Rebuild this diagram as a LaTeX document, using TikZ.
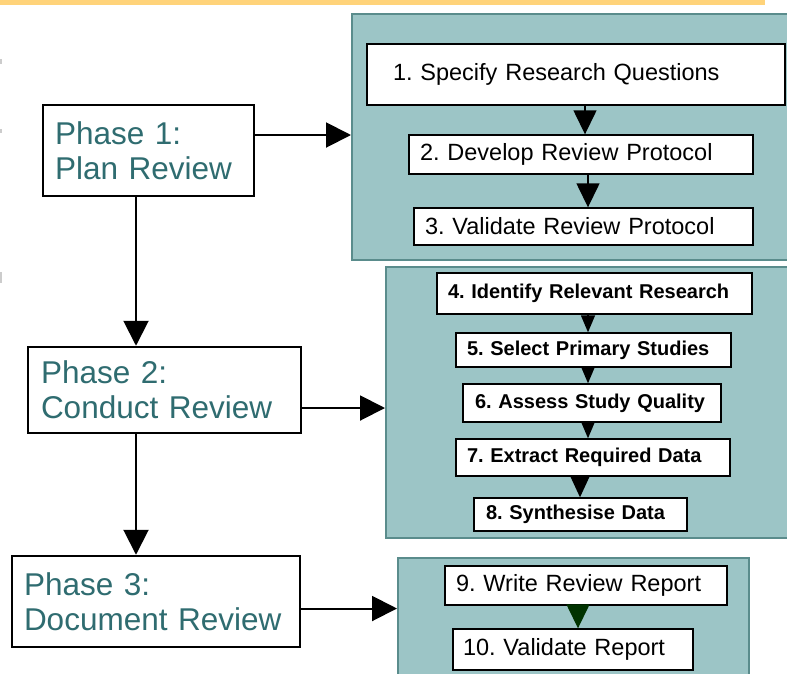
\documentclass[tikz,border=0pt]{standalone}
\usepackage{fontspec}
\setmainfont{Liberation Sans}
\usetikzlibrary{arrows.meta}
\frenchspacing
\definecolor{tealfill}{HTML}{9CC5C6}
\definecolor{tealline}{HTML}{5A8C8C}
\definecolor{phasetext}{HTML}{2F6C70}
\definecolor{bandyellow}{HTML}{FFD37A}
\definecolor{darkgreen}{HTML}{003300}
\definecolor{edgegray}{HTML}{CCCCCC}
\tikzset{
  panel/.style={draw=tealline, line width=2pt, fill=tealfill, rectangle, inner sep=0pt},
  stepbox/.style={draw=black, line width=1.4pt, fill=white, rectangle, align=left,
     inner ysep=0pt, font=\fontsize{23.5}{26}\selectfont},
  boldbox/.style={stepbox, font=\fontsize{20}{23}\selectfont\bfseries},
  phasebox/.style={draw=black, line width=2.5pt, fill=white, rectangle, align=left,
     inner ysep=0pt, text=phasetext, font=\fontsize{31.5}{35}\selectfont},
  conn/.style={line width=2pt, -{Triangle[length=25pt, width=25pt]}},
  inarrow/.style={line width=1.4pt, -{Triangle[length=24pt, width=23pt]}},
  smallarrow/.style={line width=1.4pt, -{Triangle[length=17pt, width=14pt]}},
}
\begin{document}
\begin{tikzpicture}[x=1pt, y=-1pt]
\useasboundingbox (0,0) rectangle (787,673);
% top band and edge marks
\fill[bandyellow] (0,0) rectangle (765,5);
\fill[edgegray] (0,59) rectangle (2,64);
\fill[edgegray] (0,129) rectangle (2,133);
\fill[edgegray] (0,272) rectangle (2,283);
% panels
\node[panel, minimum width=448pt, minimum height=246pt] (p1) at (576,137) {};
\node[panel, minimum width=414pt, minimum height=271pt] (p2) at (593,402.5) {};
\node[panel, minimum width=351pt, minimum height=132pt] (p3) at (573.5,624) {};
% panel 1 steps
\node[stepbox, minimum width=418pt, minimum height=61pt, inner xsep=26pt, text width=366pt] (b1) at (576,74.5) {1. Specify Research Questions};
\node[stepbox, minimum width=344pt, minimum height=39pt, inner xsep=11pt, text width=322pt] (b2) at (581,154.5) {2. Develop Review Protocol};
\node[stepbox, minimum width=339pt, minimum height=37pt, inner xsep=11pt, text width=317pt] (b3) at (583.5,226.5) {3. Validate Review Protocol};
% panel 2 steps
\node[boldbox, minimum width=315pt, minimum height=41pt, inner xsep=11pt, text width=293pt] (b4) at (594.5,293.5) {4. Identify Relevant Research};
\node[boldbox, minimum width=275pt, minimum height=34pt, inner xsep=11pt, text width=253pt] (b5) at (593.5,350) {5. Select Primary Studies};
\node[boldbox, minimum width=258pt, minimum height=38pt, inner xsep=12pt, text width=234pt] (b6) at (592,403) {6. Assess Study Quality};
\node[boldbox, minimum width=274pt, minimum height=37pt, inner xsep=11pt, text width=252pt] (b7) at (593,457.5) {7. Extract Required Data};
\node[boldbox, minimum width=213pt, minimum height=33pt, inner xsep=12pt, text width=189pt] (b8) at (580.5,514.5) {8. Synthesise Data};
% panel 3 steps
\node[stepbox, minimum width=282pt, minimum height=39pt, inner xsep=11pt, text width=260pt] (b9) at (586,585.5) {9. Write Review Report};
\node[stepbox, minimum width=240pt, minimum height=41pt, inner xsep=10pt, text width=220pt] (b10) at (573,649.5) {10. Validate Report};
% phases
\node[phasebox, minimum width=211pt, minimum height=91pt, inner xsep=12pt, text width=187pt] (ph1) at (148.5,150.5) {Phase 1:\\Plan Review};
\node[phasebox, minimum width=273pt, minimum height=86pt, inner xsep=13pt, text width=247pt] (ph2) at (164.5,390) {Phase 2:\\Conduct Review};
\node[phasebox, minimum width=288pt, minimum height=91pt, inner xsep=12pt, text width=264pt] (ph3) at (156,601.5) {Phase 3:\\Document Review};
% x positions of the vertical connectors
\coordinate (xv) at (136,0);
\coordinate (xa) at (585,0);
\coordinate (xb) at (588,0);
\coordinate (xc) at (580,0);
\coordinate (xd) at (578,0);
% phase to panel connectors
\coordinate (s1) at ([yshift=15.5pt]ph1.east);
\coordinate (s2) at ([yshift=-18pt]ph2.east);
\coordinate (s3) at ([yshift=-7pt]ph3.east);
\draw[conn] (s1) -- (s1 -| p1.west);
\draw[conn] (s2) -- (s2 -| p2.west);
\draw[conn] (s3) -- (s3 -| p3.west);
% phase to phase
\draw[conn] (ph1.south -| xv) -- (ph2.north -| xv);
\draw[conn] (ph2.south -| xv) -- (ph3.north -| xv);
% steps
\draw[inarrow] (b1.south -| xa) -- (b2.north -| xa);
\draw[inarrow] (b2.south -| xb) -- (b3.north -| xb);
\draw[smallarrow] (b4.south -| xb) -- (b5.north -| xb);
\draw[smallarrow] (b5.south -| xb) -- (b6.north -| xb);
\draw[smallarrow] (b6.south -| xb) -- (b7.north -| xb);
\draw[line width=1.4pt, -{Triangle[length=22pt, width=20pt]}] (b7.south -| xc) -- (b8.north -| xc);
\draw[inarrow, draw=darkgreen, fill=darkgreen] (b9.south -| xd) -- (b10.north -| xd);
\end{tikzpicture}
\end{document}
